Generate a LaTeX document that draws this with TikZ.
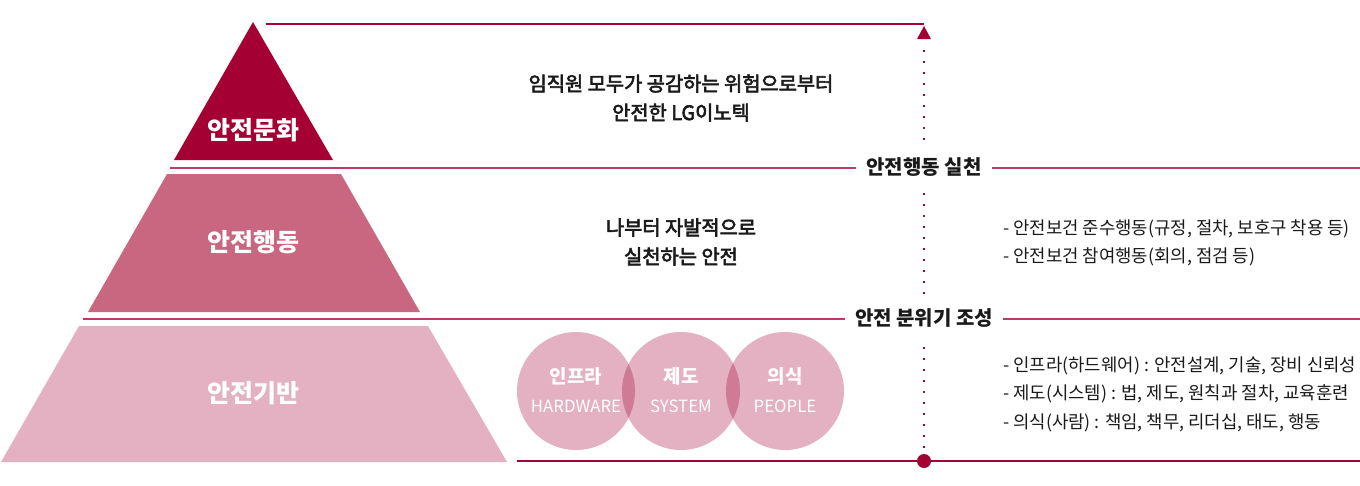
\documentclass[tikz,border=0pt]{standalone}
\usepackage{fontspec}
\setmainfont{Noto Sans CJK KR}
\newfontfamily\krmed{Noto Sans CJK KR}[FakeBold=3]
\definecolor{lgred}{HTML}{A50034}
\definecolor{midpink}{HTML}{C8677F}
\definecolor{lightpink}{HTML}{E4B1C2}
\definecolor{overlappink}{HTML}{D07B96}
\definecolor{sepline}{HTML}{BC3A66}
\definecolor{txt}{HTML}{1A1A1A}
\tikzset{
  x=1pt, y=-1pt,
  layerlabel/.style={text=white, font=\fontsize{25}{30}\selectfont\bfseries, inner sep=0},
  midtext/.style={text=txt, font=\fontsize{19.8}{29}\selectfont\krmed, align=center, inner sep=0},
  steptitle/.style={text=txt, font=\fontsize{20}{24}\selectfont\bfseries, fill=white, inner xsep=10pt, inner ysep=2pt},
  listtext/.style={text=txt, font=\fontsize{17.8}{28.5}\selectfont, align=left, anchor=west, inner sep=0},
  pillar/.style={circle, fill=lightpink, minimum size=118pt, inner sep=0},
  pillarkr/.style={text=white, font=\fontsize{19}{22}\selectfont\bfseries, inner sep=0},
  pillaren/.style={text=white, font=\fontsize{16.8}{20}\selectfont, inner sep=0},
  sep/.style={draw=sepline, line width=1.3pt},
  topline/.style={draw=lgred, line width=1.3pt},
  dotline/.style={draw=lgred, line width=2pt, dash pattern=on 2pt off 9pt},
}
\begin{document}
\begin{tikzpicture}
\useasboundingbox (0,0) rectangle (1360,485);
% pyramid layers
\fill[lgred] (253,22) -- (333,160) -- (174,160) -- cycle;
\fill[midpink] (167,174) -- (341,174) -- (420,312) -- (88,312) -- cycle;
\fill[lightpink] (79,326) -- (428,326) -- (507,462) -- (1,462) -- cycle;
\node[layerlabel] (l1) at (253,130) {안전문화};
\node[layerlabel] (l2) at (253,242) {안전행동};
\node[layerlabel] (l3) at (253,393) {안전기반};

% axis coordinates
\coordinate (topL) at (266,24);
\coordinate (arrowTip) at (924,26);
\coordinate (bottomDot) at (924,461);

% titles on separators
\node[steptitle] (t1) at (924,167) {안전행동 실천};
\node[steptitle] (t2) at (924,318) {안전 분위기 조성};

% separator lines
\coordinate (s1L) at (170,168);
\coordinate (s1R) at (1360,168);
\coordinate (s2L) at (83,319);
\coordinate (s2R) at (1360,319);
\coordinate (s3L) at (517,461);
\coordinate (s3R) at (1360,461);
\draw[topline] (topL) -- (topL -| arrowTip);
\draw[sep] (s1L) -- (t1.west |- s1L);
\draw[sep] (t1.east |- s1R) -- (s1R);
\draw[sep] (s2L) -- (t2.west |- s2L);
\draw[sep] (t2.east |- s2R) -- (s2R);
\draw[draw=lgred, line width=1.3pt] (s3L) -- (s3R);

% dotted vertical axis
\coordinate (d1a) at (924,50);
\coordinate (d1b) at (924,142);
\coordinate (d2a) at (924,193);
\coordinate (d2b) at (924,296);
\coordinate (d3a) at (924,347);
\coordinate (d3b) at (924,450);
\draw[dotline] (d1a) -- (d1b);
\draw[dotline] (d2a) -- (d2b);
\draw[dotline] (d3a) -- (d3b);
\fill[lgred] (917,39) -- (arrowTip) -- (931,39) -- cycle;
\fill[lgred] (bottomDot) circle (7);

% center texts
\node[midtext] (m1) at (681,98) {임직원 모두가 공감하는 위험으로부터\\안전한 LG이노텍};
\node[midtext] (m2) at (681,242) {나부터 자발적으로\\실천하는 안전};

% circles
\node[pillar] (c1) at (576,391) {};
\node[pillar] (c2) at (681,391) {};
\node[pillar] (c3) at (785,391) {};
\begin{scope}
  \clip (576,391) circle (59);
  \fill[overlappink] (681,391) circle (59);
\end{scope}
\begin{scope}
  \clip (681,391) circle (59);
  \fill[overlappink] (785,391) circle (59);
\end{scope}
\node[pillarkr] (c1k) at (576,376) {인프라};
\node[pillaren] (c1e) at (576,406) {HARDWARE};
\node[pillarkr] (c2k) at (681,376) {제도};
\node[pillaren] (c2e) at (681,406) {SYSTEM};
\node[pillarkr] (c3k) at (785,376) {의식};
\node[pillaren] (c3e) at (785,406) {PEOPLE};

% right lists
\node[listtext] (r1) at (1003,243) {- 안전보건 준수행동(규정, 절차, 보호구 착용 등)\\- 안전보건 참여행동(회의, 점검 등)};
\node[listtext] (r2) at (1003,394) {- 인프라(하드웨어) : 안전설계, 기술, 장비 신뢰성\\- 제도(시스템) : 법, 제도, 원칙과 절차, 교육훈련\\- 의식(사람) : 책임, 책무, 리더십, 태도, 행동};
\end{tikzpicture}
\end{document}
